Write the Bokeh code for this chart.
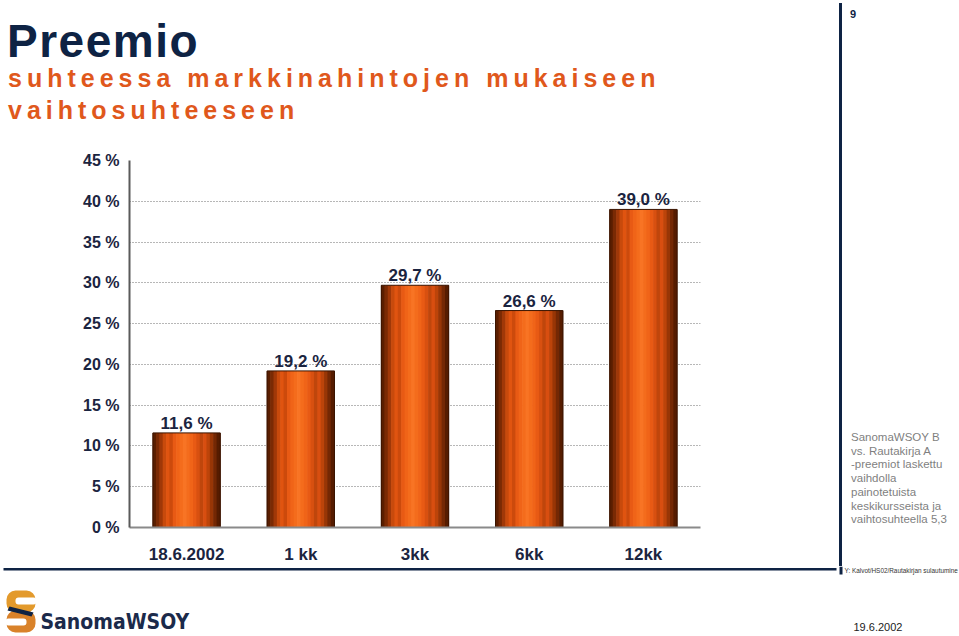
from bokeh.plotting import figure
from bokeh.models import (Range1d, Label, BoxAnnotation, PolyAnnotation,
                          FixedTicker, ColumnDataSource, Div)
from bokeh.transform import dodge
from bokeh.layouts import column, row
from bokeh.core.properties import value
from bokeh.embed import file_html
from bokeh.resources import INLINE

# ---------------- data ----------------
categories = ["18.6.2002", "1 kk", "3kk", "6kk", "12kk"]
premiums = [11.6, 19.2, 29.7, 26.6, 39.0]
value_labels = ["11,6 %", "19,2 %", "29,7 %", "26,6 %", "39,0 %"]
y_ticks = [0, 5, 10, 15, 20, 25, 30, 35, 40, 45]
y_tick_labels = ["0 %", "5 %", "10 %", "15 %", "20 %", "25 %", "30 %", "35 %", "40 %", "45 %"]
title_text = "Preemio"
subtitle_lines = ["suhteessa markkinahintojen mukaiseen", "vaihtosuhteeseen"]
note_lines = ["SanomaWSOY B", "vs. Rautakirja A", "-preemiot laskettu", "vaihdolla",
              "painotetuista", "keskikursseista ja", "vaihtosuhteella 5,3"]
page_number = "9"
file_path_text = "Y: Kalvot/HS02/Rautakirjan sulautumine"
footer_date = "19.6.2002"
logo_text = "SanomaWSOY"

# category slots on a numeric axis (slot i centred at i + 0.5)
x_pos = [i + 0.5 for i in range(len(categories))]

# ---------------- styles ----------------
NAVY = "#0e2344"
ORANGE = "#e0581c"
FONT = "Liberation Sans"
strip_colors = ["#5a1e00", "#7a2a04", "#a03808", "#c84a0c", "#e05410", "#cc4a0c",
                "#e85a14", "#f06418", "#f46c1c", "#f87424", "#f46c1c", "#f06418",
                "#e85a14", "#d85010", "#bf460c", "#d84e10", "#bc440a", "#983606",
                "#742804", "#561c00"]
BAR_W = 0.59
SPLIT_X = 836   # page x where the right-hand panel starts
SPLIT_Y = 566   # page y where the footer starts

# ---------------- header (HTML, letter-spaced like the slide) ----------------
header = Div(width=959, height=140, margin=(0, 0, 0, 0), text=f"""
<div style="position:relative;width:959px;height:140px;font-family:'{FONT}',Arial,sans-serif;">
 <div style="position:absolute;left:7px;top:16px;font-size:46px;font-weight:bold;color:{NAVY};letter-spacing:1.5px;line-height:50px;white-space:nowrap;">{title_text}</div>
 <div style="position:absolute;left:8px;top:62px;font-size:25px;font-weight:bold;color:{ORANGE};letter-spacing:5px;line-height:32px;white-space:nowrap;">{subtitle_lines[0]}<br>{subtitle_lines[1]}</div>
 <div style="position:absolute;left:839px;top:3px;width:3px;height:137px;background:{NAVY};"></div>
 <div style="position:absolute;left:850px;top:7px;font-size:11px;font-weight:bold;color:{NAVY};">{page_number}</div>
</div>""")

# ---------------- right-hand note panel ----------------
note_html = "<br>".join(note_lines)
side = Div(width=959 - SPLIT_X, height=SPLIT_Y - 140, margin=(0, 0, 0, 0), text=f"""
<div style="position:relative;width:{959 - SPLIT_X}px;height:{SPLIT_Y - 140}px;font-family:'{FONT}',Arial,sans-serif;">
 <div style="position:absolute;left:3px;top:0px;width:3px;height:{SPLIT_Y - 140}px;background:{NAVY};"></div>
 <div style="position:absolute;left:15px;top:291px;font-size:11.5px;line-height:13.7px;color:#7f7f7f;white-space:nowrap;">{note_html}</div>
</div>""")

# ---------------- chart ----------------
p = figure(width=SPLIT_X, height=SPLIT_Y - 140, x_range=Range1d(0, len(categories)), y_range=Range1d(0, 45),
           output_backend="svg", toolbar_location=None, tools="",
           min_border_left=129, min_border_right=SPLIT_X - 700, min_border_top=20,
           min_border_bottom=SPLIT_Y - 528)
p.outline_line_color = None
p.background_fill_color = "white"
p.border_fill_color = "white"

p.xgrid.grid_line_color = None
p.ygrid.ticker = FixedTicker(ticks=y_ticks)
p.ygrid.grid_line_color = "#6e6e6e"
p.ygrid.grid_line_dash = "1 2"
p.ygrid.grid_line_width = 1

yax = p.yaxis[0]
yax.ticker = FixedTicker(ticks=y_ticks)
yax.major_label_overrides = {t: l for t, l in zip(y_ticks, y_tick_labels)}
yax.major_tick_out = 0
yax.major_tick_in = 0
yax.minor_tick_out = 0
yax.minor_tick_in = 0
yax.axis_line_color = "#5a5a5a"
yax.axis_line_width = 2
yax.major_label_standoff = 10
yax.major_label_text_font = FONT
yax.major_label_text_font_style = "bold"
yax.major_label_text_font_size = "16px"
yax.major_label_text_color = "#1b2440"

xax = p.xaxis[0]
xax.ticker = FixedTicker(ticks=x_pos)
xax.major_label_overrides = {x: c for x, c in zip(x_pos, categories)}
xax.major_tick_out = 0
xax.major_tick_in = 0
xax.minor_tick_out = 0
xax.minor_tick_in = 0
xax.axis_line_color = "#8a8a8a"
xax.axis_line_width = 2
xax.major_label_standoff = 17
xax.major_label_text_font = FONT
xax.major_label_text_font_style = "bold"
xax.major_label_text_font_size = "17px"
xax.major_label_text_color = "#1b2440"

src = ColumnDataSource(dict(x=x_pos, cat=categories, val=premiums, lab=value_labels))

n = len(strip_colors)
sw = BAR_W / n
for i, c in enumerate(strip_colors):
    off = -BAR_W / 2 + (i + 0.5) * sw
    p.vbar(x=dodge("x", off), top="val", bottom=0, width=sw * 1.2,
           source=src, fill_color=c, line_color=None)
p.vbar(x="x", top="val", bottom=0, width=BAR_W, source=src,
       fill_color=None, line_color="#3a1400", line_width=1)

p.text(x="x", y="val", text="lab", source=src, text_align="center", text_baseline="bottom",
       text_font=value(FONT), text_font_style="bold", text_font_size="17px", text_color="#1b2440")

# ---------------- footer panel (frame covers the whole canvas, page-pixel ranges) ----------------
fp = figure(width=959, height=636 - SPLIT_Y, x_range=Range1d(0, 959), y_range=Range1d(636, SPLIT_Y),
            x_axis_type=None, y_axis_type=None, output_backend="svg",
            toolbar_location=None, tools="", min_border=0)
fp.outline_line_color = None
fp.grid.visible = False
fp.background_fill_color = "white"
fp.border_fill_color = "white"


def page_label(f, text, x, y, size, color, bold=False, font=FONT, align="left", baseline="alphabetic"):
    f.add_layout(Label(x=x, y=y, text=text, text_font=font, text_font_size=f"{size}px",
                       text_color=color, text_font_style="bold" if bold else "normal",
                       text_align=align, text_baseline=baseline))


def page_box(f, l, r, t, b, color, radius=0):
    f.add_layout(BoxAnnotation(left=l, right=r, top=t, bottom=b, fill_color=color, fill_alpha=1,
                               line_color=None, border_radius=radius))


page_box(fp, 839, 842, SPLIT_Y, 574, NAVY)            # vertical rule (end)
page_box(fp, 3, 836, 567.5, 570, NAVY)                # horizontal rule
page_label(fp, file_path_text, 844, 570, 6.4, "#333333", baseline="middle")
page_label(fp, footer_date, 853, 626, 11, "#222222")

# logo
page_box(fp, 6, 35, 590, 612, "#e39a2c", radius=9)
page_box(fp, 6, 35, 610, 632, "#d9822a", radius=9)
page_box(fp, 15, 36, 597, 604, "white", radius=3)
page_box(fp, 5, 26, 618, 625, "white", radius=3)
fp.add_layout(PolyAnnotation(xs=[9, 33, 31, 7], ys=[606, 612, 616, 610],
                             fill_color=NAVY, fill_alpha=1, line_color=None))
page_label(fp, logo_text, 40, 621, 21, "#1b2a4a", bold=True,
           font="DejaVu Sans Condensed, Liberation Sans")

layout = column(header, row(p, side), fp)
open("out.html", "w").write(file_html(layout, INLINE))
